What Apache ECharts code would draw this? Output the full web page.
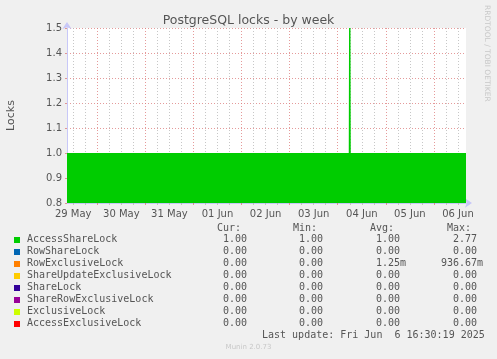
<!DOCTYPE html>
<html><head><meta charset="utf-8">
<script src="https://cdn.jsdelivr.net/npm/echarts@6/dist/echarts.min.js"></script>
<style>html,body{margin:0;padding:0;background:#f0f0f0}#c{width:497px;height:359px}</style>
</head><body><div id="c"></div>
<script>
// ---- data ----
const accessShareTimes = ['2025-05-29 08:54','2025-06-04 05:30','2025-06-04 06:00','2025-06-04 06:30','2025-06-06 16:00'];
const accessShareValues = [1.0, 1.0, 2.77, 1.0, 1.0];
const dayLabels = ['29 May','30 May','31 May','01 Jun','02 Jun','03 Jun','04 Jun','05 Jun','06 Jun'];
const dayDates = ['2025-05-29','2025-05-30','2025-05-31','2025-06-01','2025-06-02','2025-06-03','2025-06-04','2025-06-05','2025-06-06'];
const lockNames = ['AccessShareLock','RowShareLock','RowExclusiveLock','ShareUpdateExclusiveLock','ShareLock','ShareRowExclusiveLock','ExclusiveLock','AccessExclusiveLock'];
const lockColors = ['#00cc00','#0066b3','#ff8000','#ffcc00','#330099','#990099','#ccff00','#ff0000'];
const curVals = [1.00,0,0,0,0,0,0,0];
const minVals = [1.00,0,0,0,0,0,0,0];
const avgVals = [1.00,0,0.00125,0,0,0,0,0];
const maxVals = [2.77,0,0.93667,0,0,0,0,0];
const xStart = '2025-05-29 08:54', xEnd = '2025-06-06 16:00';
const lastUpdate = 'Last update: Fri Jun  6 16:30:19 2025';

// ---- helpers ----
function t(s){ return new Date(s.replace(' ','T') + (s.length>10?':00Z':'T00:00:00Z')).getTime(); }
const H = 3600000;
const seriesData = accessShareTimes.map((s,i)=>[t(s), accessShareValues[i]]);
const midnights = dayDates.slice(1).map(d=>t(d));
const noons = dayDates.map(d=>t(d)+12*H);
const minorTicks = [];
for (const d of dayDates) { for (const h of [6,12,18]) minorTicks.push(t(d)+h*H); }
function fmt(v){
  let suf=' ';
  if (v!==0 && Math.abs(v)<1){ v=v*1000; suf='m'; }
  return v.toFixed(2).padStart(6,' ') + suf;
}
const mono = 'DejaVu Sans Mono';
const textCol = '#555555';

const chart = echarts.init(document.getElementById('c'), null, {renderer:'canvas'});
const gridCol = 'rgba(220,120,120,0.75)';
const minorCol = 'rgba(185,185,185,0.8)';
const axisCol = '#c8c8f8';

const graphics = [];
[['Cur:',217],['Min:',293],['Avg:',370],['Max:',447]].forEach(([h,x])=>{
  graphics.push({type:'text', left:x, top:223, style:{text:h, font:'10px '+mono, fill:textCol}});
});
lockNames.forEach((n,i)=>{
  const y = 234 + i*12;
  graphics.push({type:'rect', shape:{x:14, y:y+3, width:6, height:6}, style:{fill:lockColors[i]}});
  graphics.push({type:'text', left:27, top:y, style:{text:n, font:'10px '+mono, fill:textCol}});
  [[curVals,211],[minVals,287],[avgVals,364],[maxVals,441]].forEach(([arr,x])=>{
    graphics.push({type:'text', left:x, top:y, style:{text:fmt(arr[i]), font:'10px '+mono, fill:textCol, whiteSpace:'pre'}});
  });
});
graphics.push({type:'text', left:262, top:330, style:{text:lastUpdate, font:'10px '+mono, fill:textCol}});
graphics.push({type:'text', left:'center', top:344, style:{text:'Munin 2.0.73', font:'7px DejaVu Sans', fill:'#c8c8c8'}});
graphics.push({type:'text', x:491, y:5, rotation:-Math.PI/2, style:{text:'RRDTOOL / TOBI OETIKER', font:'7.5px DejaVu Sans', fill:'#c8c8c8'}});

chart.setOption({
  animation:false,
  backgroundColor:'#f0f0f0',
  title:{text:'PostgreSQL locks - by week', left:'center', top:9, textStyle:{fontFamily:'DejaVu Sans', fontSize:12.5, fontWeight:'normal', color:textCol}},
  grid:{left:67, right:31, top:28, bottom:156, show:true, backgroundColor:'#ffffff', borderWidth:0, containLabel:false, outerBoundsMode:'none'},
  xAxis:[
    {type:'value', min:t(xStart), max:t(xEnd), position:'bottom',
     axisLine:{show:true, onZero:false, lineStyle:{color:axisCol, width:1}, symbol:['none','arrow'], symbolSize:[7,7], symbolOffset:[0,6]},
     axisTick:{show:true, length:2, customValues:midnights, lineStyle:{color:gridCol}},
     splitLine:{show:true, lineStyle:{color:gridCol, type:[1,2], width:1}},
     axisLabel:{customValues:noons, margin:6, fontFamily:'DejaVu Sans', fontSize:10, color:textCol,
       formatter:(v)=>{ const i = noons.indexOf(v); return i>=0?dayLabels[i]:''; }}},
    {type:'value', min:t(xStart), max:t(xEnd), position:'bottom',
     axisLine:{show:false}, axisLabel:{show:false},
     axisTick:{show:true, length:2, customValues:minorTicks, lineStyle:{color:minorCol}},
     splitLine:{show:true, lineStyle:{color:minorCol, type:[1,2], width:1}}}
  ],
  yAxis:{type:'value', min:0.8, max:1.5, interval:0.1,
    name:'Locks', nameLocation:'middle', nameGap:50, nameTextStyle:{fontFamily:'DejaVu Sans', fontSize:11, color:textCol},
    axisLine:{show:true, lineStyle:{color:axisCol, width:1}, symbol:['none','arrow'], symbolSize:[7,7], symbolOffset:[0,6]},
    axisTick:{show:true, length:2, lineStyle:{color:gridCol}},
    splitLine:{show:true, lineStyle:{color:gridCol, type:[1,2], width:1}},
    axisLabel:{margin:5, fontFamily:'DejaVu Sans', fontSize:10, color:textCol, formatter:(v)=>v.toFixed(1)}},
  series:[{type:'line', name:'AccessShareLock', xAxisIndex:0, data:seriesData, symbol:'none', showSymbol:false,
    lineStyle:{width:0}, areaStyle:{color:'#00cc00', opacity:1, origin:'start'}, clip:true, z:1}],
  graphic:graphics
});
</script></body></html>
